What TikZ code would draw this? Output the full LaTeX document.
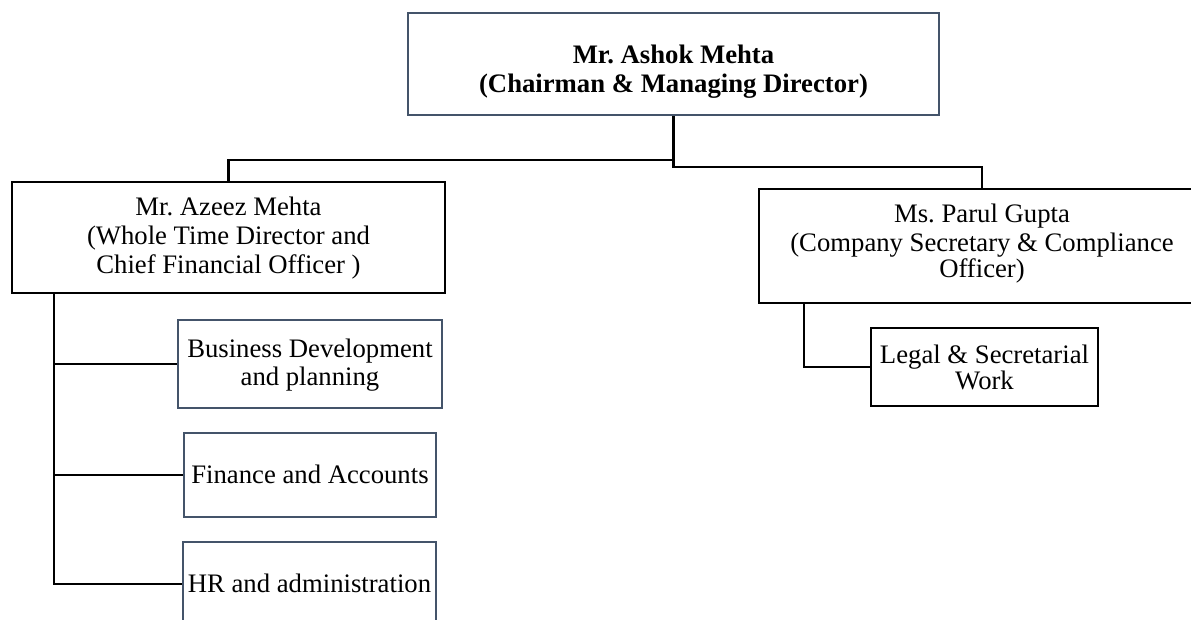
\documentclass[tikz,border=0pt]{standalone}
\usepackage{fontspec}
\setmainfont{Liberation Serif}
\definecolor{slate}{HTML}{44546A}
\frenchspacing
\newcommand\boxfont{\fontsize{26.7}{29}\selectfont}
\newcommand\ctext[1]{\parbox[t]{600pt}{\centering #1}}
\begin{document}
\begin{tikzpicture}[x=1pt,y=-1pt,
  bx/.style={draw=black, line width=2.3pt, inner sep=0pt, fill=white},
  sbx/.style={draw=slate, line width=2.3pt, inner sep=0pt, fill=white},
  txt/.style={inner sep=0pt, anchor=base, font=\boxfont},
  conn/.style={draw=black, line width=2.2pt}]
\useasboundingbox (0,0) rectangle (1191,619);
\clip (0,0) rectangle (1191,619);
\fill[white] (0,0) rectangle (1191,619);

% boxes
\node[sbx, line width=2.6pt, minimum width=531pt, minimum height=102pt] (ceo) at (673.5,64) {};
\node[bx, minimum width=433pt, minimum height=111pt] (azeez) at (228.5,237.5) {};
\node[bx, minimum width=446pt, minimum height=114pt] (parul) at (982,246) {};
\node[sbx, minimum width=264pt, minimum height=88pt] (bd) at (310,364) {};
\node[sbx, minimum width=252pt, minimum height=84pt] (fin) at (310,475) {};
\node[sbx, minimum width=253pt, minimum height=84pt] (hr) at (309.5,584) {};
\node[bx, minimum width=227pt, minimum height=78pt] (legal) at (984.5,367) {};

% texts
\node[txt] (ceo-t) at (673.5,63) {\ctext{\bfseries Mr. Ashok Mehta\\(Chairman \& Managing Director)}};
\node[txt] (azeez-t) at (228.5,215) {\ctext{Mr. Azeez Mehta\\(Whole Time Director and\\Chief Financial Officer )}};
\node[txt] (parul-t) at (982,222) {\ctext{Ms. Parul Gupta\\(Company Secretary \& Compliance\\[-3pt]Officer)}};
\node[txt] (bd-t) at (310,357) {\ctext{Business Development\\[-1pt]and planning}};
\node[txt] (fin-t) at (310,483) {\ctext{Finance and Accounts}};
\node[txt] (hr-t) at (309.5,592) {\ctext{HR and administration}};
\node[txt] (legal-t) at (984.5,363) {\ctext{Legal \& Secretarial\\[-3pt]Work}};

% connectors
\draw[conn] (ceo.south) -- ++(0,44) -| (azeez.north);
\draw[conn] (ceo.south) -- ++(0,51) -| (parul.north);
\coordinate (trunk) at (54,293);
\draw[conn] (trunk) |- (hr.west);
\draw[conn] (trunk) |- (bd.west);
\draw[conn] (trunk) |- (fin.west);
\coordinate (ptrunk) at (804,303);
\draw[conn] (ptrunk) |- (legal.west);
\end{tikzpicture}
\end{document}
